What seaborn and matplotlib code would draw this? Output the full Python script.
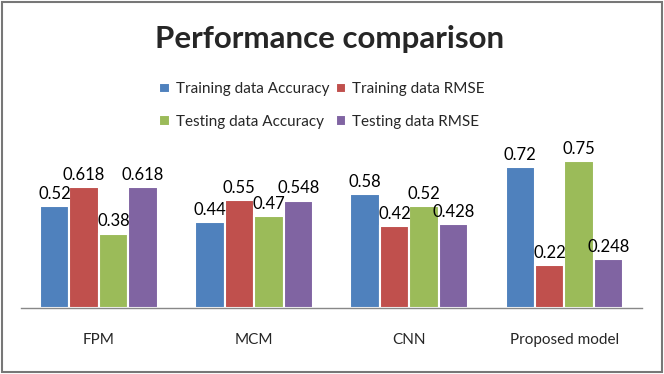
import matplotlib
matplotlib.use("Agg")
import matplotlib.pyplot as plt
import seaborn as sns
import pandas as pd

categories = ["FPM", "MCM", "CNN", "Proposed model"]
series = ["Training data Accuracy", "Training data RMSE", "Testing data Accuracy", "Testing data RMSE"]
train_acc = [0.52, 0.44, 0.58, 0.72]
train_rmse = [0.618, 0.55, 0.42, 0.22]
test_acc = [0.38, 0.47, 0.52, 0.75]
test_rmse = [0.618, 0.548, 0.428, 0.248]
labels = [["0.52", "0.44", "0.58", "0.72"],
          ["0.618", "0.55", "0.42", "0.22"],
          ["0.38", "0.47", "0.52", "0.75"],
          ["0.618", "0.548", "0.428", "0.248"]]
colors = ["#4F81BD", "#C0504D", "#9BBB59", "#8064A2"]

rows = []
for s, vals in zip(series, [train_acc, train_rmse, test_acc, test_rmse]):
    for c, v in zip(categories, vals):
        rows.append({"Model": c, "Series": s, "Value": v})
df = pd.DataFrame(rows)

sns.set_style("white")
plt.rcParams["font.family"] = ["Lato", "DejaVu Sans"]

fig = plt.figure(figsize=(6.64, 3.74), dpi=100)
ax = fig.add_axes([0.032, 0.176, 0.935, 0.42])
sns.barplot(data=df, x="Model", y="Value", hue="Series", palette=colors,
            saturation=1, width=0.76, ax=ax, edgecolor="white", linewidth=1.5,
            legend=True)

for i, cont in enumerate(ax.containers):
    ax.bar_label(cont, labels=labels[i], padding=3, fontsize=12, color="black")

ax.set_ylim(0, 0.8)
ax.set_xlim(-0.5, 3.5)
ax.set_xlabel("")
ax.set_ylabel("")
ax.set_yticks([])
ax.tick_params(axis="x", length=0, pad=18, labelsize=11)
for sp in ["top", "left", "right"]:
    ax.spines[sp].set_visible(False)
ax.spines["bottom"].set_color("#888888")
ax.spines["bottom"].set_linewidth(1)
ax.patch.set_alpha(0)

h, l = ax.get_legend_handles_labels()
ax.legend_.remove()
order = [0, 2, 1, 3]
fig.legend([h[i] for i in order], [l[i] for i in order], ncol=2, loc="center",
           bbox_to_anchor=(0.485, 0.718), frameon=False,
           fontsize=11, handlelength=0.7, handleheight=0.7, handletextpad=0.4,
           columnspacing=0.4, labelspacing=1.2)

fig.text(0.497, 0.895, "Performance comparison", ha="center", va="center",
         fontsize=22.5, fontweight="bold")

border = plt.Rectangle((0.003, 0.005), 0.994, 0.99, transform=fig.transFigure,
                       fill=False, edgecolor="#777777", linewidth=1.5)
fig.patches.append(border)

fig.savefig("out.png", dpi=100)
